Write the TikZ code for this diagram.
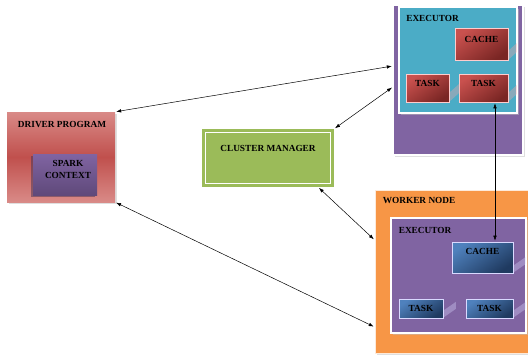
\documentclass[tikz,border=0pt]{standalone}
\usepackage{fontspec}
\setmainfont{Liberation Serif}
\usetikzlibrary{shadows,arrows.meta}

\definecolor{purp}{HTML}{8064A2}
\definecolor{purpdark}{HTML}{5F497A}
\definecolor{teal}{HTML}{4BACC6}
\definecolor{orng}{HTML}{F79646}
\definecolor{grn}{HTML}{9BBB59}
\definecolor{drvred}{HTML}{C0504D}
\definecolor{drvpink}{HTML}{D98A87}
\definecolor{redlight}{HTML}{C9514E}
\definecolor{reddark}{HTML}{7A2624}
\definecolor{bluelight}{HTML}{4F81BD}
\definecolor{bluedark}{HTML}{1F3A60}

\tikzset{%
  every node/.style={
    inner sep=1pt,
    font=\fontsize{9.3}{12.5}\selectfont\bfseries
  },
  frame/.style={
    draw=white, line width=1.8pt,
    drop shadow={shadow xshift=1.5pt, shadow yshift=-1.5pt, fill=black!25}
  },
  redbox/.style={
    draw=white!80!red, line width=0.6pt,
    top color=redlight, bottom color=reddark, shading angle=35
  },
  bluebox/.style={
    draw=white!85!blue, line width=0.6pt,
    top color=bluelight, bottom color=bluedark, shading angle=35
  },
  glow/.style={
    fill=#1, opacity=.35
  },
  link/.style={
    {Latex[length=5pt,width=3.5pt]}-{Latex[length=5pt,width=3.5pt]},
    line width=0.5pt, shorten <=1pt, shorten >=1pt
  }
}

\begin{document}
\begin{tikzpicture}[x=1pt,y=-1pt]
  \useasboundingbox (0,0) rectangle (528,354);

  \node[fill=drvred, top color=drvpink, bottom color=drvpink, middle color=drvred,
    minimum width=108, minimum height=90,
    drop shadow={shadow xshift=1.5pt, shadow yshift=-1.5pt, fill=black!25}] (driver) at (61,157) {};
  \node[top color=purp, bottom color=purpdark, minimum width=64, minimum height=41,
    drop shadow={shadow xshift=-2pt, shadow yshift=-2pt, fill=purpdark!70!black}] (spark) at (65,174.5) {};
  \node[anchor=north] (drvlbl) at ([shift={(1,8)}]driver.north) {DRIVER PROGRAM};
  \node[align=center] (sparklbl) at ([shift={(3,-5)}]spark.center) {SPARK\\CONTEXT};

  \node[fill=grn, minimum width=132, minimum height=58] (cm) at (268,158) {};
  \draw[white, line width=1.3pt] ([shift={(4,4)}]cm.north west) rectangle ([shift={(-4,-4)}]cm.south east);
  \node[anchor=north] (cmlbl) at ([shift={(0,15.5)}]cm.north) {CLUSTER MANAGER};

  \node[frame, draw=black!15, double=white, double distance=1.4pt, line width=0.4pt,
    fill=purp, minimum width=130, minimum height=150] (w1) at (458,80) {};
  \node[frame, fill=teal, minimum width=118, minimum height=106] (x1) at (458,60) {};
  \node[anchor=north west] (x1lbl) at ([shift={(7,8)}]x1.north west) {EXECUTOR};
  \node[redbox, minimum width=53, minimum height=32, text depth=10pt] (c1) at (481.5,44) {CACHE};
  \node[redbox, minimum width=43, minimum height=28, text depth=9pt] (t1) at (427.5,88) {TASK};
  \node[redbox, minimum width=49, minimum height=28, text depth=9pt] (t2) at (483.5,88) {TASK};

  \node[frame, draw=white!80!orng, line width=0.8pt, fill=orng,
    minimum width=153, minimum height=163] (w2) at (451.5,271.5) {};
  \node[anchor=north west] (w2lbl) at ([shift={(7,7)}]w2.north west) {WORKER NODE};
  \node[frame, fill=purp, minimum width=135, minimum height=115] (x2) at (458.5,275.5) {};
  \node[anchor=north west] (x2lbl) at ([shift={(7.5,9.5)}]x2.north west) {EXECUTOR};
  \node[bluebox, minimum width=61, minimum height=31, text depth=12pt] (c2) at (482.5,257.5) {CACHE};
  \node[bluebox, minimum width=44, minimum height=19] (u1) at (421,308.5) {TASK};
  \node[bluebox, minimum width=47, minimum height=19] (u2) at (489.5,308.5) {TASK};

  \foreach \b/\l in {c1/8,t1/9.5,t2/8}
    \fill[glow=white!65!red] ([shift={(0.5,-1)}]\b.south east) -- ++(\l,-0.9*\l) -- ++(0,-9) -- ++(-\l,0.9*\l) -- cycle;
  \foreach \b/\l in {c2/12,u1/12,u2/12}
    \fill[glow=white!85!blue] ([shift={(0.5,-1)}]\b.south east) -- ++(\l,-0.7*\l) -- ++(0,-7) -- ++(-\l,0.7*\l) -- cycle;

  \draw[link] (driver.north east) -- ([shift={(0,-14)}]w1.west);
  \draw[link] (cm.north east) -- ([shift={(0,7)}]w1.west);
  \draw[link] ([shift={(-16,0)}]cm.south east) -- ([shift={(0,-31.5)}]w2.west);
  \draw[link] (driver.south east) -- ([shift={(0,55.5)}]w2.west);
  \draw[link] ([shift={(11.5,0)}]t2.south) -- ([shift={(12.5,0)}]c2.north);
\end{tikzpicture}
\end{document}
